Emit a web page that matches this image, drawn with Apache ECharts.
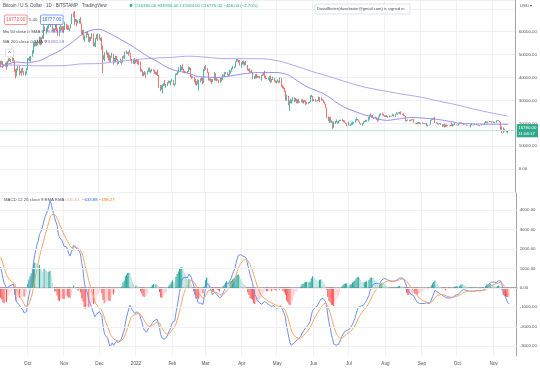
<!DOCTYPE html>
<html><head><meta charset="utf-8">
<script src="https://cdn.jsdelivr.net/npm/echarts@6/dist/echarts.min.js"></script>
<style>html,body{margin:0;padding:0;background:#fff}#c{width:540px;height:370px}</style>
</head><body><div id="c"></div>
<script>
// ---- data (prices in thousands of USD) ----
const firstDate = [2021, 8, 8];      // 2021-09-08 (first daily candle)
const axisEndDate = [2022, 10, 20];  // 2022-11-20 (right edge of the time axis)
const firstOpen = 46.8;
const closes = [
46.1,46.4,44.8,45.2,46.1,44.9,47.1,48.1,47.8,47.3,48.3,47.3,43.0,40.7,43.6,44.9,42.8,42.7,43.2,42.2,41.0,41.5,43.8,
48.1,47.7,48.2,49.2,51.5,55.3,53.8,53.9,55.0,54.7,57.5,56.0,57.4,57.3,61.7,60.9,61.5,62.0,64.3,66.0,62.2,60.7,61.3,60.9,63.1,60.3,58.5,60.6,62.3,61.9,61.3,
61.0,63.2,62.9,61.4,61.0,61.5,63.3,67.5,66.9,64.9,64.9,64.2,64.4,65.5,63.6,60.1,60.4,56.9,58.1,59.7,58.7,56.3,57.6,57.1,58.9,53.6,54.8,57.3,57.8,56.9,
57.2,56.5,53.6,49.2,49.4,50.6,50.6,50.5,47.7,47.2,49.4,50.1,46.7,48.4,48.9,47.7,46.2,46.8,46.7,46.9,49.0,48.6,50.8,50.4,50.8,50.6,50.7,47.5,46.5,47.1,46.2,
47.7,47.3,46.4,45.8,43.4,43.1,41.5,41.7,41.9,41.8,42.7,43.9,42.6,43.1,43.2,43.1,42.2,42.4,41.7,40.7,36.5,35.1,36.3,36.7,37.0,36.9,37.2,37.7,38.2,37.9,38.5,
38.7,36.9,37.3,41.6,41.4,42.4,43.8,44.0,44.4,43.5,42.4,42.2,42.1,42.6,44.6,43.9,40.6,40.0,40.1,38.4,37.0,38.3,37.3,38.3,39.2,39.1,37.7,43.2,
44.4,44.0,42.5,39.1,39.4,38.4,37.9,38.7,41.9,39.4,38.7,38.8,37.8,39.7,39.3,41.1,40.9,41.8,42.2,41.2,41.0,42.4,42.9,44.0,44.3,44.5,46.8,47.1,47.4,47.1,45.5,
46.3,45.8,46.4,46.6,45.5,43.2,43.4,42.3,42.7,42.2,39.5,40.1,41.1,39.9,40.5,40.4,39.7,40.8,41.5,41.4,40.5,39.7,39.5,39.5,40.4,38.1,39.2,39.7,38.6,37.7,
38.5,38.5,37.7,39.7,36.6,36.0,35.5,34.1,30.1,31.0,29.0,29.0,29.3,30.1,31.3,29.9,30.4,28.7,30.3,29.2,29.4,30.3,29.1,29.7,29.6,29.3,28.6,29.0,29.5,31.7,31.8,
29.8,30.5,29.7,29.9,29.9,31.4,31.1,30.2,30.1,29.1,28.4,26.6,22.5,22.2,22.6,20.4,20.5,19.0,20.6,20.6,20.7,20.0,21.1,21.2,21.5,21.0,20.7,20.3,20.1,19.0,
19.3,19.2,19.3,20.2,20.2,20.5,21.6,21.6,21.6,20.8,19.9,19.3,20.2,20.6,20.8,21.2,20.8,22.4,23.4,23.2,23.2,22.7,22.5,22.6,22.0,21.3,22.9,23.8,23.8,23.6,23.3,
23.3,23.0,22.8,22.6,23.3,23.0,23.2,23.8,23.1,23.9,23.9,24.4,24.4,24.3,24.1,23.9,23.3,23.2,20.8,21.1,21.5,21.4,21.5,21.4,21.6,20.2,20.0,19.6,20.3,19.8,20.0,
20.1,19.9,19.8,20.0,19.8,18.8,19.3,19.3,21.4,21.6,21.8,22.4,20.2,20.2,19.7,19.8,20.1,19.4,19.5,18.9,18.5,19.4,19.3,18.9,18.8,19.2,19.1,19.4,19.6,19.4,
19.3,19.1,19.6,20.3,20.2,19.9,19.5,19.4,19.4,19.1,19.0,19.2,19.4,19.2,19.1,19.3,19.5,19.3,19.1,19.0,19.2,19.2,19.6,19.3,20.1,20.8,20.3,20.6,20.8,20.6,20.5,
20.5,20.2,20.2,21.2,21.3,20.9,20.6,18.5,15.9,17.6,17.1,16.8,16.38,16.776
];
const highs = [
47.3,47.3,47.0,45.9,46.4,46.9,47.3,48.4,48.5,48.1,48.8,48.4,47.4,43.6,44.0,45.1,45.0,42.9,43.9,44.3,42.8,42.6,44.1,
48.4,48.4,49.2,49.5,51.9,55.8,55.3,56.1,55.5,56.5,57.8,57.6,57.6,58.5,62.9,62.2,61.7,62.6,64.5,67.0,66.6,63.7,61.5,61.4,63.7,63.3,61.5,62.2,62.9,62.3,62.4,
62.4,64.3,63.5,63.1,62.6,61.5,63.3,67.8,68.5,69.0,65.6,65.5,65.0,65.5,66.3,63.6,60.8,60.9,58.3,59.9,60.0,59.2,57.8,57.7,59.3,59.1,55.3,57.3,58.9,59.2,
59.0,57.4,57.6,53.9,49.7,51.0,51.9,51.2,50.8,50.1,49.5,50.8,50.3,48.6,49.5,49.4,48.0,47.3,48.3,47.5,49.3,49.6,51.4,51.8,51.2,51.3,52.0,50.7,48.1,47.9,48.5,
47.9,47.9,47.6,47.5,47.0,43.7,43.1,42.3,42.8,42.2,43.0,44.3,44.4,43.4,43.8,43.5,43.2,42.6,42.5,43.5,41.1,36.8,36.6,37.0,37.6,38.9,37.2,38.0,38.7,38.4,38.7,
39.3,38.9,37.4,41.7,41.9,42.6,44.5,45.5,44.8,45.8,43.9,43.0,42.7,42.8,44.8,44.6,44.2,40.9,40.5,40.2,39.5,38.4,39.2,39.0,39.6,40.1,39.8,43.7,
44.9,45.4,44.1,42.5,39.6,39.6,39.3,39.4,42.4,41.9,40.1,39.3,39.0,39.9,39.9,41.4,41.3,42.3,42.4,42.3,41.5,43.3,43.0,44.2,45.1,44.8,46.9,48.2,48.1,47.7,47.6,
46.7,47.2,47.4,46.9,47.2,45.5,43.9,43.9,42.8,43.4,42.4,40.7,41.5,41.6,40.9,40.7,40.6,41.1,41.7,42.2,42.9,40.8,39.9,39.9,40.6,40.8,39.4,40.3,39.9,38.8,
38.6,39.1,38.6,40.0,39.8,36.6,36.1,35.5,34.3,32.6,32.0,30.0,30.8,30.3,31.4,31.3,31.0,30.7,30.5,30.7,29.6,30.4,30.6,30.1,30.2,29.9,29.4,29.2,29.5,32.2,32.4,
31.9,30.6,30.7,29.9,30.2,31.7,31.5,31.3,30.6,30.3,29.4,28.5,26.9,23.0,22.7,22.9,21.3,20.8,20.8,21.0,21.7,20.9,21.2,21.5,21.6,21.8,21.5,21.2,20.4,20.1,
20.8,19.4,19.6,20.3,20.7,20.6,21.8,22.5,21.9,21.6,20.8,20.0,20.2,20.8,21.1,21.5,21.6,22.7,23.7,24.2,23.4,23.7,22.9,22.9,22.7,21.7,23.0,24.2,24.4,24.6,24.2,
23.5,23.5,23.6,23.2,23.4,23.3,23.3,24.2,23.9,24.2,24.9,24.4,24.9,25.0,25.2,24.2,24.4,23.6,23.2,21.4,21.7,21.5,21.6,21.8,21.8,21.8,20.2,20.1,20.4,20.6,20.5,
20.2,20.4,20.0,20.0,20.0,20.2,19.5,19.4,21.5,21.8,21.9,22.5,22.8,20.5,20.3,19.9,20.2,20.1,19.6,19.6,19.9,19.5,19.5,19.3,19.1,19.3,20.3,19.7,19.6,20.1,
19.5,19.4,19.7,20.4,20.4,20.4,20.0,19.6,19.5,19.5,19.2,19.2,19.5,19.9,19.2,19.4,19.7,19.7,19.4,19.3,19.2,19.3,19.7,19.6,20.4,21.0,20.9,20.7,21.1,20.9,20.8,
20.7,20.8,20.4,21.3,21.5,21.4,21.0,20.7,18.6,18.2,17.6,17.1,16.9,16.956
];
const lows = [
44.4,45.6,44.2,44.8,44.8,43.4,44.7,46.7,47.1,46.8,47.1,46.9,42.5,39.6,40.6,43.1,40.8,41.7,40.8,42.1,40.9,40.8,41.4,
43.3,47.4,47.1,46.9,49.0,50.4,53.4,53.6,53.7,54.1,54.4,54.0,54.3,56.9,56.9,60.3,58.9,60.0,61.4,63.5,62.1,60.1,60.0,59.6,60.7,60.1,58.1,57.9,60.3,60.8,60.0,
59.5,60.7,61.0,60.7,60.8,60.1,61.4,63.3,66.3,62.8,64.2,62.3,63.6,63.6,63.4,58.6,58.4,56.5,55.6,57.4,58.5,55.6,55.3,55.9,57.0,53.5,53.6,53.3,56.7,56.0,
56.5,55.9,52.1,42.0,47.8,47.1,50.0,48.6,47.3,46.9,46.7,48.7,45.7,46.5,46.6,47.6,45.5,45.9,46.4,45.6,46.6,48.4,48.1,50.4,50.2,49.5,50.5,47.3,46.1,46.0,45.7,
46.2,46.7,45.7,45.5,42.6,42.5,40.7,40.5,41.2,39.7,41.3,42.5,42.3,41.9,42.6,42.6,41.6,41.3,41.1,40.6,35.5,34.0,34.6,33.0,36.2,36.4,35.5,36.2,37.4,37.4,36.6,
38.1,36.6,36.3,37.0,41.0,41.2,42.0,42.7,43.1,43.2,42.0,41.8,41.9,41.6,42.4,43.3,40.1,39.5,39.7,38.0,36.8,36.4,37.1,34.3,38.0,38.6,37.0,37.5,
42.9,43.4,41.9,38.6,38.7,38.1,37.2,37.9,38.7,38.6,38.3,38.7,37.6,37.6,38.2,38.9,40.5,40.2,41.5,40.9,40.5,40.9,41.8,42.6,43.6,44.1,44.4,46.7,47.0,46.6,45.2,
44.3,45.6,45.6,45.1,45.4,43.1,42.8,42.1,42.1,42.0,39.2,39.3,39.6,39.6,39.8,40.0,39.6,38.6,40.6,40.9,39.8,39.2,39.3,39.0,38.2,37.7,37.9,38.9,38.2,37.6,
37.4,38.1,37.5,37.7,35.8,35.3,34.8,33.7,30.0,29.8,27.8,25.4,28.7,28.6,29.5,29.1,29.5,28.7,28.7,28.7,29.0,29.2,28.9,28.6,29.3,28.0,28.3,28.5,28.8,29.3,31.3,
29.5,29.6,29.5,29.5,29.6,29.9,29.3,29.9,30.0,28.9,28.2,26.6,22.3,20.9,20.1,20.3,20.3,17.6,18.0,19.7,20.4,19.8,19.9,20.8,21.0,20.9,20.5,20.2,19.9,18.7,
19.0,19.0,18.8,19.1,19.3,19.8,20.3,21.2,21.3,20.7,19.9,19.2,18.9,19.6,20.4,20.5,20.8,20.8,21.6,23.0,22.3,22.5,21.9,22.3,21.5,20.7,21.1,22.6,23.4,23.5,23.2,
22.8,22.7,22.7,22.4,22.6,22.9,22.9,23.2,22.9,22.7,23.9,23.6,24.3,24.1,23.8,23.7,23.2,23.1,20.8,20.8,21.1,20.9,20.9,21.2,21.3,20.2,19.8,19.6,19.6,19.6,19.8,
19.6,19.8,19.7,19.6,19.6,18.7,18.6,19.0,19.3,21.1,21.4,21.6,20.1,19.9,19.5,19.3,19.7,19.3,18.3,18.7,18.1,18.4,18.6,18.9,18.7,18.7,18.8,18.5,19.0,19.2,
19.2,19.0,19.0,19.5,19.8,19.9,19.3,19.4,19.4,19.0,18.9,19.0,18.2,19.1,19.0,19.1,19.2,19.2,19.1,18.9,18.7,19.1,19.1,19.2,19.2,20.0,20.2,20.0,20.6,20.5,20.2,
20.4,20.1,20.0,20.2,21.1,20.9,20.4,17.2,15.6,15.8,16.4,16.7,16.0,15.584
];
// 50-day SMA, read weekly
const ma50 = [
['2021-09-08',44.6],['2021-09-15',46.0],['2021-09-22',46.7],['2021-09-29',46.4],['2021-10-06',46.8],['2021-10-13',47.7],
['2021-10-20',49.6],['2021-10-27',51.3],['2021-11-03',53.6],['2021-11-10',56.2],['2021-11-17',59.0],['2021-11-24',60.6],
['2021-12-01',61.0],['2021-12-08',59.7],['2021-12-15',57.8],['2021-12-22',55.8],['2021-12-29',53.7],['2022-01-05',51.3],
['2022-01-12',49.0],['2022-01-19',47.1],['2022-01-26',44.9],['2022-02-02',43.3],['2022-02-09',42.5],['2022-02-16',41.7],
['2022-02-23',40.4],['2022-03-02',40.2],['2022-03-09',40.0],['2022-03-16',40.2],['2022-03-23',40.7],['2022-03-30',41.3],
['2022-04-06',41.8],['2022-04-13',42.1],['2022-04-20',42.2],['2022-04-27',42.2],['2022-05-04',42.0],['2022-05-11',41.0],
['2022-05-18',38.8],['2022-05-25',36.5],['2022-06-01',34.8],['2022-06-08',33.4],['2022-06-15',31.3],['2022-06-22',28.7],
['2022-06-29',26.7],['2022-07-06',25.3],['2022-07-13',24.0],['2022-07-20',22.9],['2022-07-27',21.8],['2022-08-03',21.3],
['2022-08-10',21.7],['2022-08-17',22.2],['2022-08-24',22.5],['2022-08-31',22.4],['2022-09-07',22.1],['2022-09-14',21.8],
['2022-09-21',21.2],['2022-09-28',20.6],['2022-10-05',19.9],['2022-10-12',19.8],['2022-10-19',19.7],['2022-10-26',19.6],
['2022-11-02',19.6],['2022-11-09',19.6],['2022-11-14',19.5]
];
// 200-day SMA, read twice a month
const ma200 = [
['2021-09-08',45.6],['2021-09-15',45.5],['2021-10-01',45.2],['2021-10-15',45.1],['2021-11-01',45.2],['2021-11-15',45.9],
['2021-12-01',46.1],['2021-12-15',46.9],['2022-01-01',47.8],['2022-01-15',48.4],['2022-02-01',48.8],['2022-02-15',49.3],
['2022-03-01',48.9],['2022-03-15',48.3],['2022-04-01',48.2],['2022-04-15',48.2],['2022-05-01',47.4],['2022-05-15',45.4],
['2022-06-01',42.5],['2022-06-15',40.4],['2022-07-01',37.8],['2022-07-15',35.8],['2022-08-01',34.1],['2022-08-15',32.8],
['2022-09-01',31.4],['2022-09-15',29.8],['2022-10-01',28.1],['2022-10-15',26.3],['2022-11-01',24.4],['2022-11-07',23.8],
['2022-11-14',23.1]
];
// MACD(12,26,9) EMA states on the day before the first candle
const macdSeed = {ema12: 49.0, ema26: 47.6, signal: 1.70};
const priceTicks = [0, 10, 20, 30, 40, 50, 60];
const macdTicks = [-3, -2, -1, 0, 1, 2, 3, 4];
const monthNames = ['Jan','Feb','Mar','Apr','May','Jun','Jul','Aug','Sep','Oct','Nov','Dec'];
const countdown = '11:06:17';

// ---- build ----
const dates = [];
for (let t = Date.UTC(...firstDate), end = Date.UTC(...axisEndDate); t <= end; t += 86400000) {
  dates.push(new Date(t).toISOString().slice(0, 10));
}
const candles = closes.map((c, i) => {
  const o = i === 0 ? firstOpen : closes[i - 1];
  return [o, c, Math.min(lows[i], o, c), Math.max(highs[i], o, c)];
});
let e12 = macdSeed.ema12, e26 = macdSeed.ema26, sig = macdSeed.signal;
const macdLine = [], signalLine = [], hist = [];
closes.forEach(c => {
  e12 += (c - e12) * 2 / 13;
  e26 += (c - e26) * 2 / 27;
  const m = e12 - e26;
  sig += (m - sig) * 2 / 10;
  macdLine.push(m); signalLine.push(sig); hist.push(m - sig);
});
const histData = hist.map((h, i) => {
  const p = i > 0 ? hist[i - 1] : h;
  const col = h >= 0 ? (h >= p ? '#26a69a' : '#b2dfdb') : (h <= p ? '#ff5252' : '#ffcdd2');
  return {value: h, itemStyle: {color: col}};
});
const lastClose = closes[closes.length - 1];

const FONT = 'Liberation Sans, Arial, sans-serif';
const GRID = '#eef0f4';
const AX = '#a3a6ae';
const isMonthStart = (i, v) => v.slice(8) === '01';
const monthFmt = v => { const m = +v.slice(5, 7); return m === 1 ? v.slice(0, 4) : monthNames[m - 1]; };
const txt = (x, y, text, fill, size, align) => ({type: 'text', x, y, silent: true, z: 100,
  style: {text, fill, fontSize: size || 4.5, fontFamily: FONT, verticalAlign: 'middle', align: align || 'left'}});
const box = (x, y, w, h, stroke) => ({type: 'rect', silent: true, z: 99, shape: {x, y, width: w, height: h, r: 1},
  style: {fill: '#fff', stroke, lineWidth: 0.6}});

const chart = echarts.init(document.getElementById('c'), null, {renderer: 'canvas'});
chart.setOption({
  animation: false,
  backgroundColor: '#fff',
  textStyle: {fontFamily: FONT},
  grid: [
    {left: 0, right: 23, top: 0, height: 192},
    {left: 0, right: 23, top: 193, height: 163}
  ],
  xAxis: [
    {type: 'category', gridIndex: 0, data: dates, boundaryGap: true,
     axisLine: {show: false}, axisTick: {show: false}, axisLabel: {show: false},
     splitLine: {show: true, interval: isMonthStart, lineStyle: {color: GRID, width: 1}}},
    {type: 'category', gridIndex: 1, data: dates, boundaryGap: true,
     axisLine: {show: true, lineStyle: {color: AX, width: 2}}, axisTick: {show: false},
     axisLabel: {interval: isMonthStart, formatter: monthFmt, fontSize: 4.6, color: '#50535e', margin: 5},
     splitLine: {show: true, interval: isMonthStart, lineStyle: {color: GRID, width: 1}}}
  ],
  yAxis: [
    {type: 'value', gridIndex: 0, position: 'right', min: -10, max: 73.84, interval: 10,
     axisLine: {show: true, lineStyle: {color: AX, width: 1}}, axisTick: {show: false},
     axisLabel: {fontSize: 4.4, color: '#50535e', margin: 3,
       formatter: v => priceTicks.includes(Math.round(v)) ? (v * 1000).toFixed(2) : ''},
     splitLine: {show: true, lineStyle: {color: GRID, width: 1}}},
    {type: 'value', gridIndex: 1, position: 'right', min: -3.5, max: 4.864, interval: 0.5,
     axisLine: {show: true, lineStyle: {color: AX, width: 1}}, axisTick: {show: false},
     axisLabel: {fontSize: 4.4, color: '#50535e', margin: 3,
       formatter: v => macdTicks.some(t => Math.abs(t - v) < 1e-6) ? (Math.round(v) * 1000).toFixed(2) : ''},
     splitLine: {show: false}}
  ],
  series: [
    {type: 'candlestick', xAxisIndex: 0, yAxisIndex: 0, data: candles, barWidth: 0.8,
     itemStyle: {color: '#26a69a', color0: '#ef5350', borderColor: '#26a69a', borderColor0: '#ef5350', borderWidth: 0.8},
     markLine: {silent: true, symbol: 'none', animation: false,
       lineStyle: {color: '#bfe6d8', width: 1, type: 'solid'},
       label: {show: true, position: 'end', distance: 1, formatter: p => (p.value * 1000).toFixed(2) + '\n' + countdown,
         backgroundColor: '#2fa98c', color: '#fff', fontSize: 4.4, lineHeight: 5.6, padding: [1, 1.5, 1, 1.5], fontFamily: FONT},
       data: [{yAxis: lastClose}]}},
    {type: 'line', name: 'MA 200', xAxisIndex: 0, yAxisIndex: 0, data: ma200, showSymbol: false, smooth: 0.4,
     lineStyle: {color: '#b1a6f2', width: 1}, z: 3},
    {type: 'line', name: 'MA 50', xAxisIndex: 0, yAxisIndex: 0, data: ma50, showSymbol: false, smooth: 0.4,
     lineStyle: {color: '#958ce8', width: 1}, z: 3},
    {type: 'bar', xAxisIndex: 1, yAxisIndex: 1, data: histData, barWidth: 0.9,
     markLine: {silent: true, symbol: 'none', animation: false, label: {show: false},
       lineStyle: {color: GRID, width: 1, type: 'solid'}, data: macdTicks.map(v => ({yAxis: v}))}},
    {type: 'line', name: 'MACD', xAxisIndex: 1, yAxisIndex: 1, data: macdLine, showSymbol: false,
     lineStyle: {color: '#6d90f3', width: 1}, z: 4},
    {type: 'line', name: 'Signal', xAxisIndex: 1, yAxisIndex: 1, data: signalLine, showSymbol: false,
     lineStyle: {color: '#f9a565', width: 1}, z: 4}
  ],
  graphic: [
    txt(3, 6, 'Bitcoin / U.S. Dollar · 1D · BITSTAMP · TradingView', '#4a4e57', 4.5),
    {type: 'circle', silent: true, z: 100, shape: {cx: 131, cy: 5.5, r: 1.4}, style: {fill: '#26a69a'}},
    txt(135, 6, 'O16380.00 H16956.00 L15584.00 C16776.00 −466.00 (−2.70%)', '#26a69a', 4.3),
    box(4.5, 15, 22.5, 9.5, '#ef5350'), txt(15.75, 20, '16772.00', '#ef5350', 4.5, 'center'),
    txt(29, 20, '5.40', '#4a4e57', 4.3),
    box(40.5, 15, 22.5, 9.5, '#2962ff'), txt(51.75, 20, '16777.00', '#2962ff', 4.5, 'center'),
    txt(3, 32, 'Ma 50 close 0 SMA 9', '#4a4e57', 4.3), txt(45, 32, '19,903.88', '#7b6fe0', 4.3),
    txt(3, 42, 'MA 200 close 0 SMA 9', '#4a4e57', 4.3), txt(45, 42, '23,081.59', '#7b6fe0', 4.3),
    box(5.5, 49, 8, 8, '#c8cad0'), txt(9.5, 54, '^', '#555', 5, 'center'),
    box(315, 4, 95, 10, '#cfd2d8'), txt(317, 9, 'DavidBeiter(davebeiter@gmail.com) is signed in', '#4a4e57', 4.1),
    txt(520, 6, 'USD ▾', '#4a4e57', 4.3),
    txt(4, 200, 'MACD 12 26 close 9 EMA EMA', '#4a4e57', 4.3),
    txt(64, 200, '−435.61', '#f4a3a3', 4.3),
    txt(82, 200, '−633.88', '#2962ff', 4.3),
    txt(99, 200, '−198.27', '#ff6d00', 4.3)
  ]
});
</script>
</body></html>
